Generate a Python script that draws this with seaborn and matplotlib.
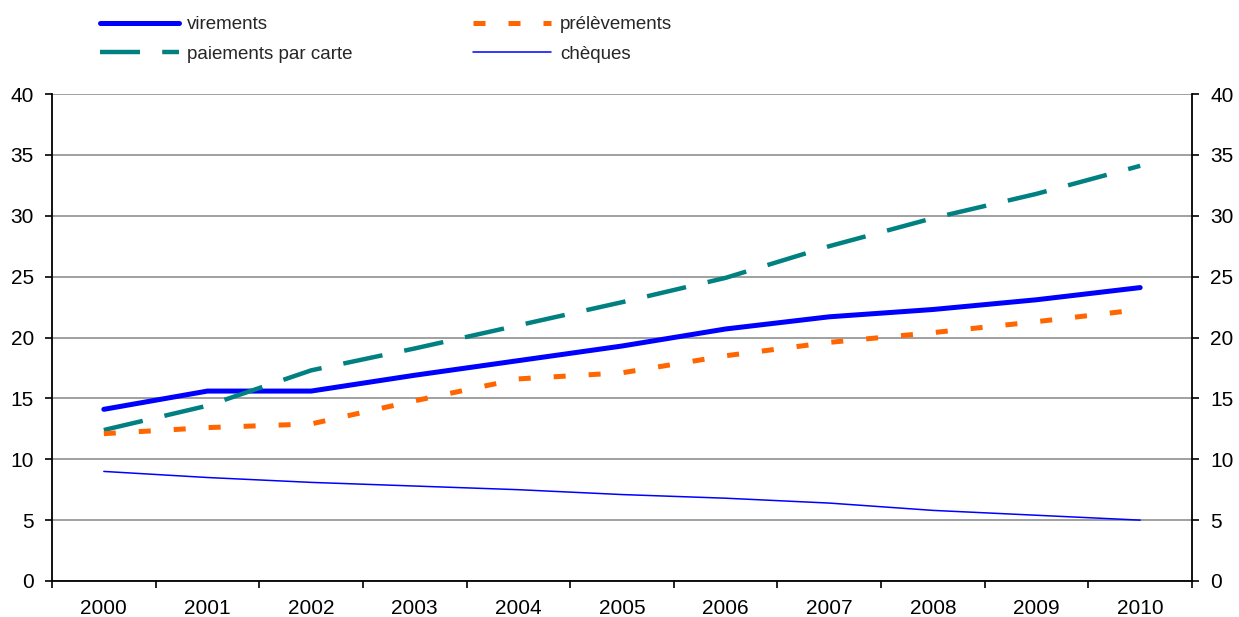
import matplotlib
matplotlib.use("Agg")
import matplotlib.pyplot as plt
from matplotlib.ticker import FixedLocator, NullFormatter
import seaborn as sns
import pandas as pd
import numpy as np

years = ["2000", "2001", "2002", "2003", "2004", "2005", "2006", "2007", "2008", "2009", "2010"]
virements = [14.1, 15.6, 15.6, 16.9, 18.1, 19.3, 20.7, 21.7, 22.3, 23.1, 24.1]
paiements_carte = [12.4, 14.4, 17.3, 19.1, 21.0, 22.9, 24.9, 27.5, 29.8, 31.8, 34.1]
prelevements = [12.1, 12.6, 12.9, 14.8, 16.6, 17.1, 18.5, 19.6, 20.4, 21.3, 22.3]
cheques = [9.0, 8.5, 8.1, 7.8, 7.5, 7.1, 6.8, 6.4, 5.8, 5.4, 5.0]
y_ticks = [0, 5, 10, 15, 20, 25, 30, 35, 40]

sns.set_theme(style="white")
plt.rcParams['font.family'] = ['Liberation Sans', 'DejaVu Sans']

fig = plt.figure(figsize=(12.39, 6.17), dpi=100)
ax = fig.add_axes([52/1239, 1-581/617, (1192-52)/1239, (581-94)/617])

pos = np.arange(len(years))
df = pd.DataFrame({"pos": pos, "virements": virements, "paiements par carte": paiements_carte,
                   "prélèvements": prelevements, "chèques": cheques})

series = [
    ("virements", "#0000FF", 3.6, None),
    ("paiements par carte", "#008080", 3.2, (9, 5)),
    ("prélèvements", "#FF6600", 3.6, (2.4, 4.6)),
    ("chèques", "#0000FF", 1.1, None),
]
handles = {}
for name, col, lw, dash in series:
    sns.lineplot(data=df, x="pos", y=name, ax=ax, color=col, lw=lw, zorder=3)
    line = ax.lines[-1]
    if dash is not None:
        line.set_dashes(dash)
    handles[name] = line

ax.set_xlim(-0.5, len(years) - 0.5)
ax.set_ylim(0, 40)
ax.set_yticks(y_ticks)
ax.set_yticklabels([str(v) for v in y_ticks])
ax.set_xticks(pos)
ax.set_xticklabels(years)
ax.xaxis.set_minor_locator(FixedLocator(np.arange(-0.5, len(years), 1.0)))
ax.xaxis.set_minor_formatter(NullFormatter())
ax.set_xlabel("")
ax.set_ylabel("")

ax.grid(axis="y", color="#999999", lw=1.3, zorder=1)
ax.grid(axis="x", visible=False)
for s in ["left", "right", "bottom"]:
    ax.spines[s].set_visible(True)
    ax.spines[s].set_color("black")
    ax.spines[s].set_linewidth(1.3)
ax.spines["top"].set_visible(False)

ax.tick_params(axis="x", which="major", length=0, pad=13, labelsize=15, colors="black")
ax.tick_params(axis="x", which="minor", bottom=True, length=5, width=1.2, direction="out", color="black")
ax.tick_params(axis="y", which="major", left=True, right=True, labelleft=True, labelright=True,
               length=5, width=1.2, direction="out", pad=8, labelsize=15, colors="black")

order = ["virements", "paiements par carte", "prélèvements", "chèques"]
leg = fig.legend([handles[n] for n in order], order, ncol=2, loc="upper left",
                 bbox_to_anchor=(100/1239, 1-16/617), frameon=False, fontsize=13.5,
                 handlelength=4.2, handletextpad=0.45, columnspacing=6.4, labelspacing=0.68,
                 borderpad=0, borderaxespad=0)

fig.savefig("out.png", dpi=100)
